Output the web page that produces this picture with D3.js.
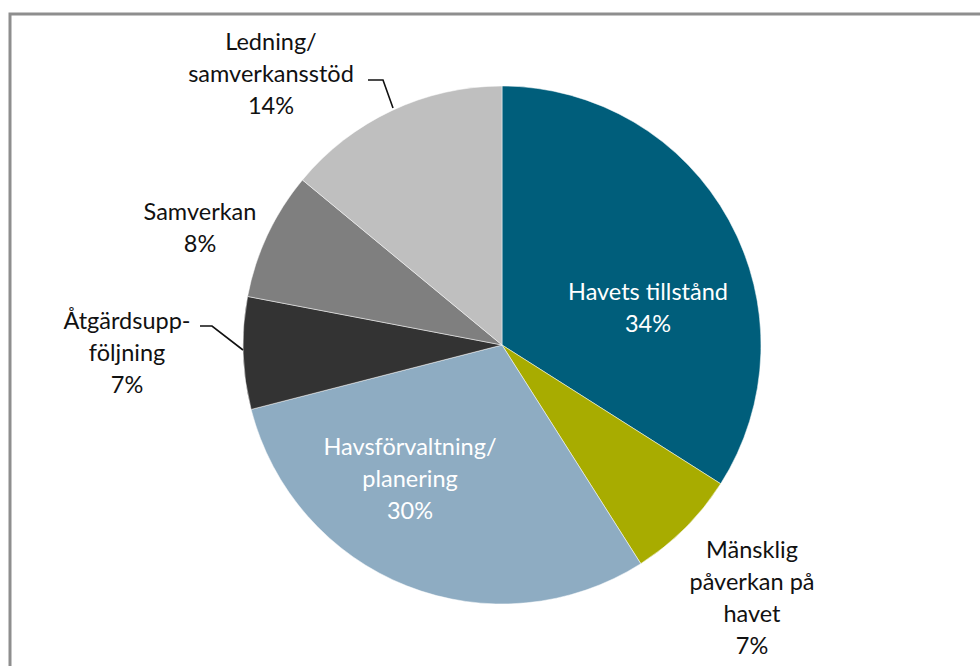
<!DOCTYPE html>
<html><head><meta charset="utf-8">
<script src="https://cdn.jsdelivr.net/npm/d3@7"></script>
<style>html,body{margin:0;padding:0;background:#fff;}svg{display:block;}</style>
</head><body>
<svg id="c" width="980" height="666"></svg>
<script>
const categories = ["Havets tillstånd","Mänsklig påverkan på havet","Havsförvaltning/planering","Åtgärdsuppföljning","Samverkan","Ledning/samverkansstöd"];
const values = [34, 7, 30, 7, 8, 14];
const colors = ["#005e7b","#a8ac00","#8eacc2","#333333","#7f7f7f","#bfbfbf"];
const labelLines = [
  ["Havets tillstånd","34%"],
  ["Mänsklig","påverkan på","havet","7%"],
  ["Havsförvaltning/","planering","30%"],
  ["Åtgärdsupp-","följning","7%"],
  ["Samverkan","8%"],
  ["Ledning/","samverkansstöd","14%"]
];
const labelInside = [true,false,true,false,false,false];

// layout (relative to pie centre)
const W = 980, H = 666, cx = 502, cy = 345, R = 259, lineH = 32;
const labelOffset = [[146,-53],[250,205],[-92,102],[-375,-24],[-302,-133],[-231,-303]];
const leaders = [null,null,null,
  [[-302,-19],[-290,-19],[-259,5]],
  null,
  [[-134,-265],[-119,-265],[-109,-237]]];

const svg = d3.select("#c");
// frame
svg.append("path").attr("d", `M10,${H} L10,14 L${W},14`).attr("fill","none")
  .attr("stroke","#8e8e8e").attr("stroke-width",3);

const g = svg.append("g").attr("transform",`translate(${cx},${cy})`);
const pie = d3.pie().sort(null).value(d=>d)(values);
const arc = d3.arc().innerRadius(0).outerRadius(R);
g.selectAll("path.slice").data(pie).join("path").attr("class","slice")
  .attr("d",arc).attr("fill",(d,i)=>colors[i])
  .attr("stroke","#fff").attr("stroke-width",0.5);

const line = d3.line();
leaders.forEach(p=>{ if(p) g.append("path").attr("d",line(p)).attr("fill","none")
  .attr("stroke","#111").attr("stroke-width",1.6); });

labelLines.forEach((ls,i)=>{
  const [ox,oy] = labelOffset[i];
  const t = g.append("text").attr("text-anchor","middle")
    .attr("font-family","Lato, 'Open Sans', sans-serif").attr("font-size",23.5)
    .attr("fill", labelInside[i] ? "#ffffff" : "#111111");
  ls.forEach((s,k)=>{
    t.append("tspan").attr("x",ox).attr("y",oy + k*lineH).attr("dy","0.35em").text(s);
  });
});
</script>
</body></html>
